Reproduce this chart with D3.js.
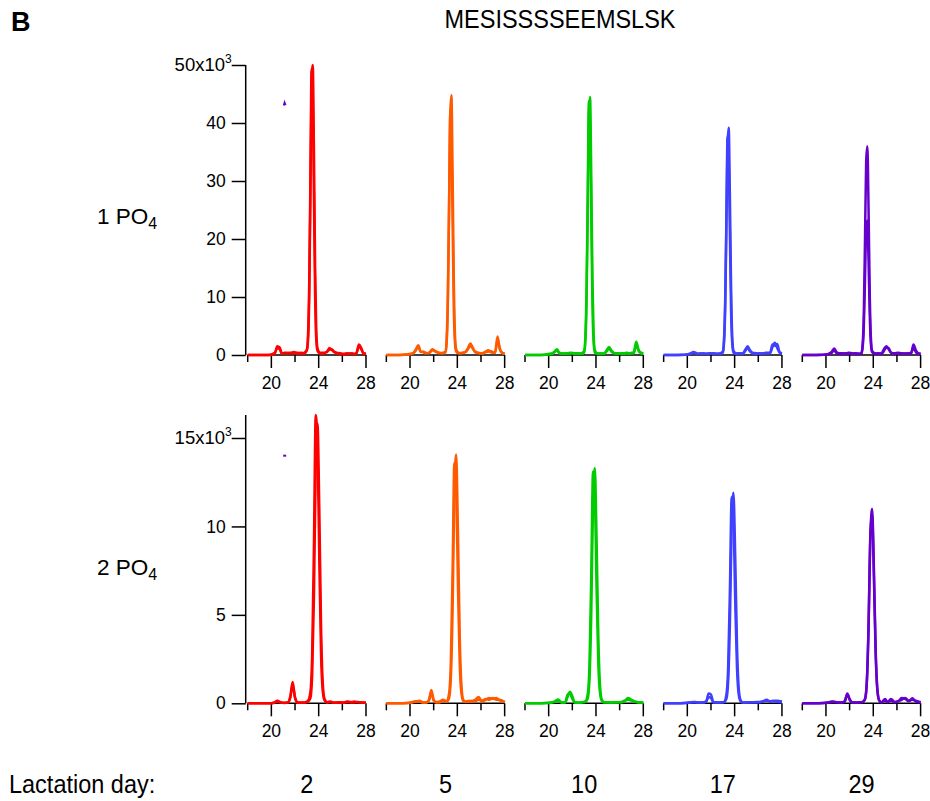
<!DOCTYPE html>
<html><head><meta charset="utf-8">
<script src="https://cdn.jsdelivr.net/npm/d3@7"></script>
<style>body{margin:0;background:#fff} text{font-family:"Liberation Sans",Arial,Helvetica,sans-serif;fill:#000}</style>
</head><body><svg id="c" width="930" height="801"></svg>
<script>
// ---------- data ----------
const title = "MESISSSSEEMSLSK";
const panelLetter = "B";
const days = ["2","5","10","17","29"];
const colors = ["#ff0000","#ff5a00","#00cc00","#4040ff","#6600cc"];
const rowNames = ["1 PO","2 PO"];
const xTicks = [18,20,22,24,26,28];
const xLabeled = [20,24,28];
const topYTicks = [0,10,20,30,40,50];
const botYTicks = [0,5,10,15];

// retention time grids (min)
const topTimes = [18,19,19.6,20.0,20.3,20.5,20.7,20.9,21.1,21.3,21.6,21.9,22.2,22.5,22.8,23.0,23.1,23.2,23.3,23.4,23.5,23.6,23.7,23.8,23.9,24.1,24.4,24.7,24.9,25.1,25.3,25.5,25.8,26.1,26.4,26.6,26.8,27.0,27.2,27.4,27.6,27.8,28];
const botTimes = [18,19,19.8,20.2,20.5,20.8,21.1,21.4,21.6,21.8,22.0,22.2,22.5,22.8,23.1,23.3,23.45,23.6,23.75,23.9,24.05,24.2,24.35,24.5,24.7,25.0,25.2,25.5,25.8,26.1,26.4,26.7,27.0,27.3,27.6,28];

// 1 PO4 intensities (x10^3)
const top_d2_a  = [0,0,0,0.05,0.3,1.5,1.3,0.3,0.3,0.4,0.3,0.5,0.3,0.4,0.3,0.8,2.5,10,27.5,46.5,50,35,15,4,1.2,0.4,0.4,0.5,1.2,0.9,0.5,0.3,0.2,0.1,0.3,0.2,0.3,0.1,0.4,1.8,1.2,0.2,0.3];
const top_d2_b  = [0,0,0,0.1,0.4,1.2,1.0,0.2,0.4,0.3,0.4,0.3,0.4,0.2,0.4,0.9,3.5,12.3,30.5,49.3,44.4,27,9.9,2.5,0.7,0.3,0.2,0.6,0.9,1.0,0.6,0.4,0.3,0.2,0.2,0.3,0.2,0.2,0.3,1.5,1.0,0.3,0.2];
const top_d5_a  = [0,0,0.05,0.2,0.3,1.0,1.7,0.6,0.5,0.3,0.4,1.0,0.5,0.4,0.3,0.5,2.2,9,24.6,41.7,44.8,31.4,13.4,3.6,1.0,0.4,0.3,0.6,1.2,2.0,1.3,0.5,0.3,0.3,0.6,0.8,0.5,0.4,0.6,3.2,0.9,0.4,0.2];
const top_d5_b  = [0,0,0.1,0.1,0.4,0.8,1.4,0.5,0.6,0.4,0.3,0.8,0.6,0.3,0.4,0.6,2.9,10.4,25.8,41.6,37.4,22.9,8.3,2.1,0.6,0.3,0.4,0.5,1.0,1.6,1.1,0.6,0.4,0.2,0.5,0.6,0.7,0.5,0.4,2.6,1.1,0.3,0.3];
const top_d10_a = [0,0,0.05,0.2,0.3,0.6,1.0,0.4,0.3,0.2,0.3,0.4,0.3,0.3,0.2,0.4,2.2,8.9,24.5,41.4,44.5,31.2,13.4,3.6,0.9,0.3,0.2,0.3,0.8,1.4,0.8,0.4,0.2,0.3,0.3,0.4,0.3,0.3,0.5,2.3,0.9,0.4,0.3];
const top_d10_b = [0,0,0,0.1,0.2,0.5,0.8,0.3,0.2,0.3,0.2,0.3,0.2,0.2,0.3,0.7,3.1,11,27.2,43.8,39.4,24.1,8.8,2.2,0.4,0.2,0.3,0.2,0.6,1.1,0.6,0.3,0.3,0.2,0.2,0.3,0.2,0.4,0.3,1.8,0.7,0.3,0.2];
const top_d17_a = [0,0,0,0.1,0.2,0.5,0.4,0.2,0.3,0.2,0.2,0.2,0.3,0.2,0.2,0.4,2.0,7.8,21.6,36.5,39.2,27.4,11.8,3.1,0.8,0.3,0.2,0.3,0.9,1.5,0.8,0.4,0.3,0.2,0.3,0.3,0.4,0.3,1.4,2.1,1.2,0.4,0.2];
const top_d17_b = [0,0,0.05,0.1,0.3,0.4,0.3,0.2,0.2,0.3,0.2,0.3,0.2,0.2,0.3,0.6,2.6,9.4,23.3,37.6,33.8,20.7,7.5,1.9,0.4,0.2,0.3,0.2,0.7,1.2,0.6,0.3,0.2,0.3,0.2,0.4,0.3,0.4,1.8,1.6,1.9,0.5,0.3];
const top_d29_a = [0,0,0.05,0.1,0.3,0.6,1.1,0.5,0.3,0.3,0.2,0.4,0.3,0.2,0.2,0.3,1.8,7.2,19.8,33.5,36,25.2,10.8,2.9,0.7,0.3,0.2,0.3,1.0,1.5,1.0,0.4,0.3,0.4,0.3,0.2,0.3,0.2,0.3,1.8,0.8,0.3,0.2];
const top_d29_b = [0,0,0,0.1,0.2,0.4,0.8,0.3,0.2,0.2,0.3,0.2,0.2,0.3,0.2,0.3,1.3,4.8,13,21.8,23.2,16.3,7,1.9,0.5,0.2,0.3,0.2,0.7,1.3,1.2,0.4,0.2,0.3,0.2,0.3,0.2,0.3,0.4,1.2,0.5,0.2,0.3];

// 2 PO4 intensities (x10^3)
const bot_d2_a  = [0,0,0,0.02,0.15,0.05,0.02,0.05,0.4,1.2,0.3,0.05,0.03,0.05,0.15,0.65,2.8,9,16.3,14.7,8.2,2.8,0.65,0.16,0.05,0.1,0.05,0.03,0.05,0.04,0.08,0.05,0.1,0.06,0.05,0.03];
const bot_d2_b  = [0,0,0,0.03,0.1,0.04,0.03,0.04,0.3,1.0,0.35,0.04,0.05,0.03,0.1,0.3,1.6,6,13.4,15.8,11.1,4.4,1.1,0.24,0.06,0.08,0.04,0.05,0.06,0.03,0.1,0.07,0.05,0.08,0.04,0.05];
const bot_d5_a  = [0,0,0.02,0.05,0.1,0.15,0.05,0.05,0.2,0.75,0.2,0.05,0.1,0.2,0.1,0.28,1.4,5.3,12,14.06,9.8,3.9,1.0,0.2,0.1,0.15,0.1,0.2,0.35,0.1,0.2,0.3,0.25,0.3,0.15,0.1];
const bot_d5_b  = [0,0,0.01,0.08,0.12,0.1,0.04,0.06,0.15,0.6,0.15,0.08,0.05,0.15,0.12,0.54,2.3,7.5,13.6,12.2,6.8,2.3,0.54,0.14,0.08,0.1,0.15,0.12,0.2,0.15,0.25,0.2,0.3,0.2,0.2,0.05];
const bot_d10_a = [0,0,0.02,0.05,0.1,0.22,0.05,0.05,0.35,0.65,0.4,0.05,0.03,0.05,0.08,0.27,1.33,5.05,11.3,13.3,9.3,3.7,0.93,0.2,0.06,0.05,0.04,0.06,0.05,0.08,0.1,0.3,0.2,0.1,0.06,0.05];
const bot_d10_b = [0,0,0.01,0.03,0.08,0.15,0.04,0.06,0.5,0.55,0.25,0.06,0.04,0.06,0.1,0.52,2.2,7.2,13.1,11.8,6.55,2.2,0.52,0.13,0.05,0.06,0.05,0.04,0.06,0.05,0.15,0.2,0.15,0.08,0.05,0.04];
const bot_d17_a = [0,0,0.02,0.05,0.08,0.06,0.04,0.06,0.12,0.55,0.5,0.06,0.05,0.04,0.06,0.24,1.2,4.5,10.1,11.9,8.3,3.3,0.83,0.18,0.05,0.04,0.06,0.05,0.08,0.06,0.1,0.2,0.12,0.15,0.15,0.1];
const bot_d17_b = [0,0,0.01,0.04,0.06,0.05,0.05,0.04,0.1,0.35,0.3,0.05,0.04,0.06,0.08,0.47,2.0,6.4,11.65,10.5,5.8,2.0,0.47,0.12,0.04,0.06,0.05,0.06,0.05,0.07,0.12,0.15,0.1,0.12,0.08,0.06];
const bot_d29_a = [0,0,0.02,0.05,0.1,0.08,0.05,0.06,0.1,0.56,0.25,0.05,0.05,0.06,0.08,0.22,1.1,4.2,9.35,11,7.7,3.1,0.77,0.17,0.06,0.25,0.06,0.25,0.08,0.1,0.3,0.25,0.12,0.28,0.1,0.05];
const bot_d29_b = [0,0,0.01,0.04,0.08,0.06,0.04,0.05,0.15,0.5,0.2,0.06,0.04,0.05,0.07,0.25,1.2,4.4,9.5,10.7,7.2,2.8,0.7,0.15,0.05,0.15,0.08,0.15,0.06,0.12,0.2,0.3,0.15,0.2,0.15,0.06];

// stray marker traces seen in the first panels (time, intensity)
const strayTop = [[21.05,43.0],[21.12,43.5],[21.2,43.1]];
const strayBot = [[21.0,14.0],[21.25,14.0]];

// ---------- layout ----------
const svg = d3.select("#c");
const panelLeft = 247.7, panelStep = 138.65, panelW = 118.3;
const rows = [
  {times: topTimes, traces: [[top_d2_a,top_d2_b],[top_d5_a,top_d5_b],[top_d10_a,top_d10_b],[top_d17_a,top_d17_b],[top_d29_a,top_d29_b]],
   y0: 355, y1: 65, ticks: topYTicks, stray: strayTop, labelY: 224, name: rowNames[0]},
  {times: botTimes, traces: [[bot_d2_a,bot_d2_b],[bot_d5_a,bot_d5_b],[bot_d10_a,bot_d10_b],[bot_d17_a,bot_d17_b],[bot_d29_a,bot_d29_b]],
   y0: 703.3, y1: 415, ticks: botYTicks, stray: strayBot, labelY: 575, name: rowNames[1]}
];

function stretchedText(g, x, y, str, size, sy, anchor, weight){
  return g.append("text").attr("transform", `translate(${x},${y}) scale(1,${sy})`)
    .attr("text-anchor", anchor||"start").style("font-size", size+"px").style("font-weight", weight||"normal").text(str);
}

// panel letter & title
stretchedText(svg, 11, 31, panelLetter, 27, 1, "start", "bold");
stretchedText(svg, 560, 28, title, 23.5, 1.1, "middle");

rows.forEach((row) => {
  const ymax = d3.max(row.traces.flat(2));
  const y = d3.scaleLinear().domain([0, ymax]).range([row.y0, row.y1]);
  // y axis
  const yAxis = d3.axisLeft(y).tickValues(row.ticks).tickSize(14).tickPadding(6).tickFormat(d3.format("d"));
  const ga = svg.append("g").attr("transform", `translate(245.7,0)`).call(yAxis);
  ga.select(".domain").attr("d", `M0,${y(ymax)}V${y(0)}`).attr("stroke","#000").attr("stroke-width",1.5);
  ga.selectAll(".tick line").attr("stroke","#000").attr("stroke-width",1.5);
  ga.selectAll(".tick text").style("font-size","17.5px").style("font-family","Liberation Sans, Arial, sans-serif").attr("fill","#000");
  const topTick = ga.selectAll(".tick text").filter(d => d === d3.max(row.ticks));
  topTick.text(null).attr("x", -14).style("font-size","18.5px");
  topTick.append("tspan").text(d => d + "x10");
  topTick.append("tspan").attr("dy", -8).style("font-size","12px").text("3");

  // row label with subscript
  const rl = svg.append("text").attr("x", 97).attr("y", row.labelY).style("font-size","22.5px");
  rl.append("tspan").text(row.name);
  rl.append("tspan").attr("dy", 5).style("font-size","16px").text("4");

  row.traces.forEach((pair, i) => {
    const x = d3.scaleLinear().domain([18, 28]).range([panelLeft + i*panelStep, panelLeft + i*panelStep + panelW]);
    const g = svg.append("g");
    // x axis
    g.append("line").attr("x1", x(18)).attr("x2", x(28)).attr("y1", y(0)).attr("y2", y(0)).attr("stroke","#000").attr("stroke-width",1.5);
    g.selectAll("line.tk").data(xTicks).join("line").attr("class","tk")
      .attr("x1", d => x(d)).attr("x2", d => x(d)).attr("y1", y(0))
      .attr("y2", d => y(0) + (xLabeled.includes(d) ? 13 : 7))
      .attr("stroke","#000").attr("stroke-width",1.5);
    g.selectAll("text.tl").data(xLabeled).join("text").attr("class","tl")
      .attr("x", d => x(d)).attr("y", y(0) + 34).attr("text-anchor","middle").style("font-size","17.5px").text(d => d);
    // traces
    const line = d3.line().x((d, k) => x(row.times[k])).y(d => y(d)).curve(d3.curveMonotoneX);
    pair.slice().reverse().forEach(tr => {
      g.append("path").attr("d", line(tr)).attr("fill","none").attr("stroke", colors[i])
        .attr("stroke-width", 2.5).attr("stroke-linejoin","round");
    });
    if (i === 0) {
      const sl = d3.line().x(d => x(d[0])).y(d => y(d[1]));
      g.append("path").attr("d", sl(row.stray)).attr("fill","none").attr("stroke", colors[4]).attr("stroke-width", 2);
    }
  });
});

// bottom labels
stretchedText(svg, 9, 793, "Lactation day:", 23.5, 1.1, "start");
days.forEach((d, i) => {
  const cx = panelLeft + i*panelStep + panelW/2;
  stretchedText(svg, cx, 793, d, 23.5, 1.1, "middle");
});
</script></body></html>
